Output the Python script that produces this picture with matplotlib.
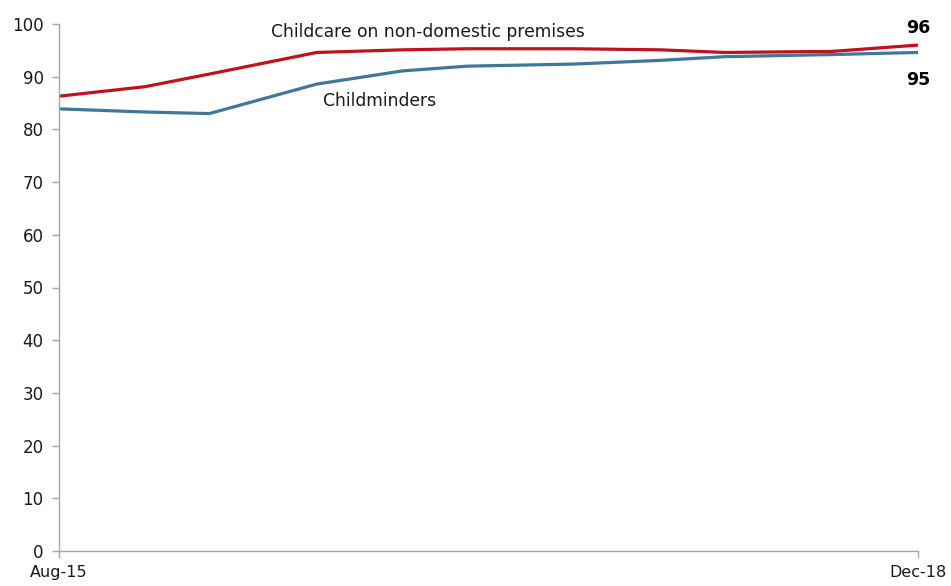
import matplotlib
matplotlib.use("Agg")
import matplotlib.pyplot as plt

months = ["Aug-15", "Dec-15", "Mar-16", "Aug-16", "Dec-16", "Mar-17",
          "Aug-17", "Dec-17", "Mar-18", "Aug-18", "Dec-18"]
month_index = [0, 4, 7, 12, 16, 19, 24, 28, 31, 36, 40]
non_domestic = [86.3, 88.1, 90.5, 94.6, 95.1, 95.3, 95.3, 95.1, 94.6, 94.8, 96.0]
childminders = [83.9, 83.3, 83.0, 88.6, 91.1, 92.0, 92.4, 93.1, 93.8, 94.2, 94.6]
x_tick_labels = ["Aug-15", "Dec-18"]
y_ticks = list(range(0, 101, 10))

RED = "#C0111F"
BLUE = "#41779A"
GREY = "#A6A6A6"
TEXT = "#1A1A1A"

plt.rcParams['font.family'] = ['DejaVu Sans']

fig = plt.figure(figsize=(9.51, 5.86), dpi=100)
ax = fig.add_axes([59/951, 35/586, (918-59)/951, (551-24)/586])

ax.plot(month_index, non_domestic, color=RED, lw=2.3, solid_joinstyle='round')
ax.plot(month_index, childminders, color=BLUE, lw=2.3, solid_joinstyle='round')

ax.set_xlim(month_index[0], month_index[-1])
ax.set_ylim(0, 100)
ax.set_yticks(y_ticks)
ax.set_xticks([month_index[0], month_index[-1]])
ax.set_xticklabels(x_tick_labels)

for s in ["top", "right"]:
    ax.spines[s].set_visible(False)
for s in ["left", "bottom"]:
    ax.spines[s].set_color(GREY)
    ax.spines[s].set_linewidth(1.0)
ax.tick_params(axis='both', colors=GREY, length=5, width=1.0,
               labelcolor=TEXT, labelsize=12)
ax.tick_params(axis='x', pad=5, labelsize=11.5)
ax.tick_params(axis='y', pad=6)

ax.text(17.2, 98.5, "Childcare on non-domestic premises", fontsize=12.3,
        color=TEXT, ha="center", va="center")
ax.text(12.3, 85.4, "Childminders", fontsize=12.3, color=TEXT,
        ha="left", va="center")
ax.text(40, 99.2, "96", fontsize=12.5, fontweight="bold", color="black",
        ha="center", va="center", clip_on=False)
ax.text(40, 89.4, "95", fontsize=12.5, fontweight="bold", color="black",
        ha="center", va="center", clip_on=False)

fig.savefig("out.png", dpi=100)
